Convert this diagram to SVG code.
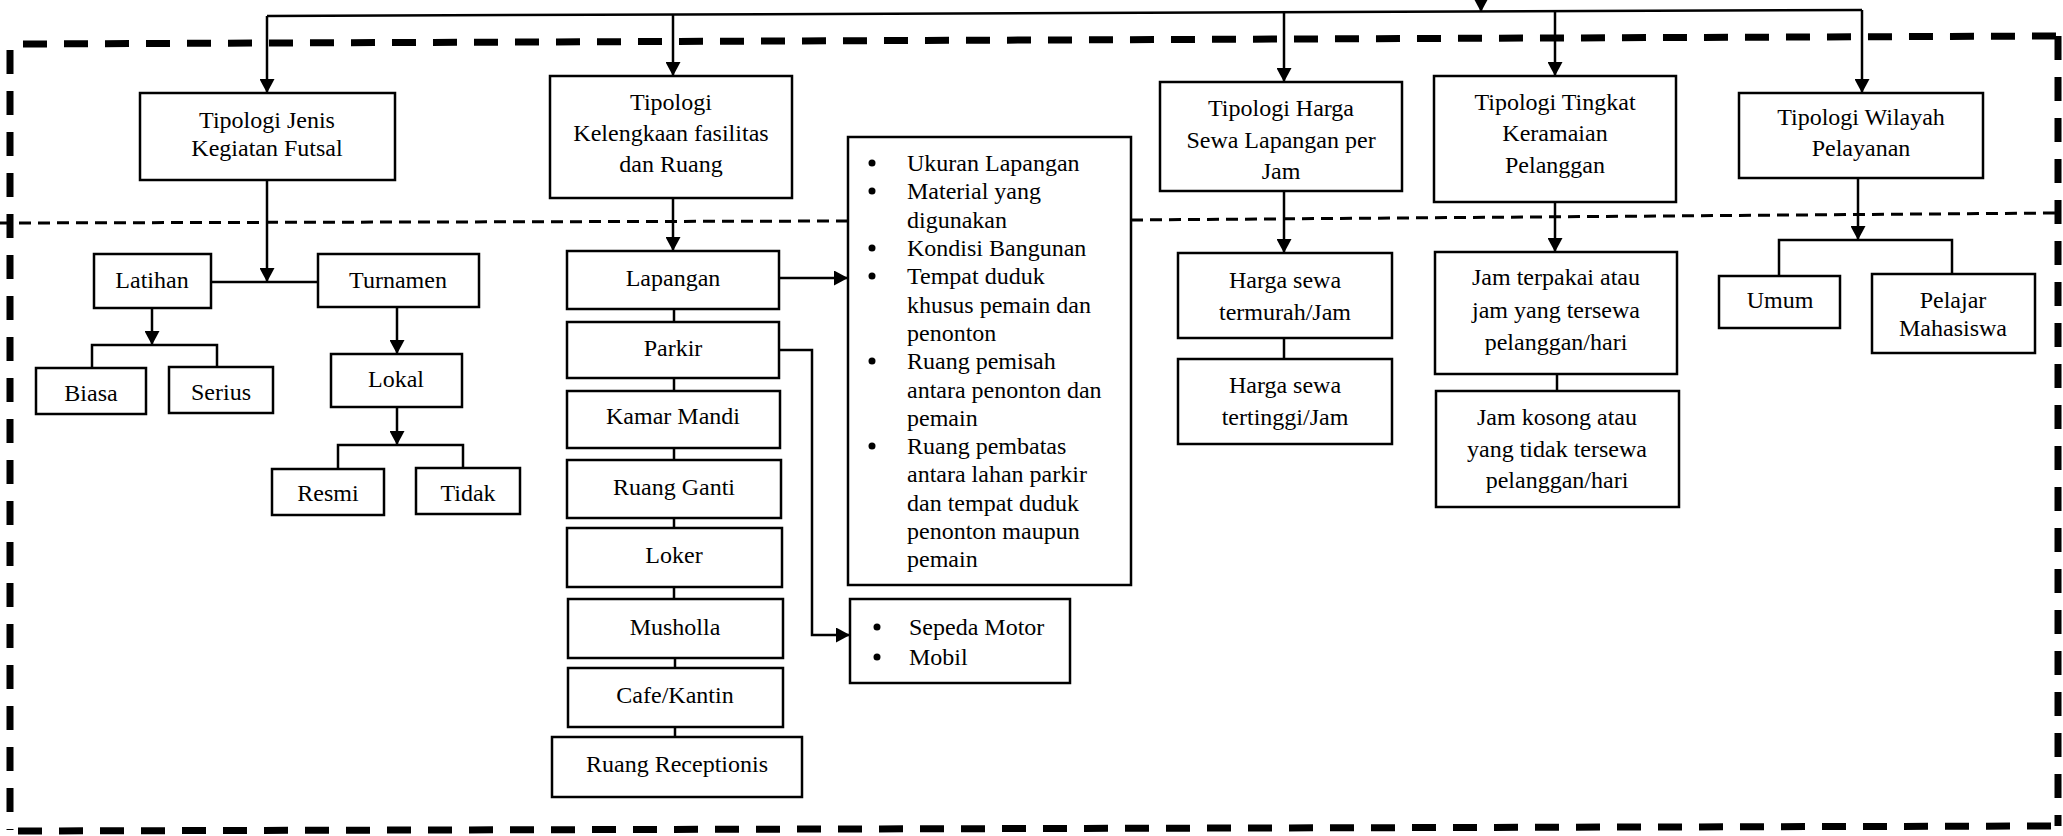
<svg xmlns="http://www.w3.org/2000/svg" width="2063" height="836" viewBox="0 0 2063 836">
<defs>
<marker id="ah" markerUnits="userSpaceOnUse" markerWidth="15" markerHeight="15" refX="14" refY="7.5" orient="auto">
<path d="M0,0 L14,7.5 L0,15 z" fill="#000"/>
</marker>
<style>
.box{fill:#fff;stroke:#000;stroke-width:2.5}
.t{font-family:"Liberation Serif","Times New Roman",serif;font-size:24px;text-anchor:middle;dominant-baseline:central;fill:#000}
.l{text-anchor:start}
.ln{fill:none;stroke:#000;stroke-width:2.5}
.a{marker-end:url(#ah)}
.thick{fill:none;stroke:#000;stroke-width:7;stroke-dasharray:24 17}
.thin{fill:none;stroke:#000;stroke-width:3;stroke-dasharray:12 7}
</style>
</defs>
<g id="boundary">
<line class="thick" x1="23" y1="44" x2="2058" y2="36"/>
<line class="thick" x1="10" y1="50" x2="10" y2="830"/>
<line class="thick" x1="2058" y1="36" x2="2058" y2="826"/>
<line class="thick" x1="18" y1="831" x2="2058" y2="826"/>
<line class="thin" x1="0" y1="223" x2="848" y2="221"/>
<line class="thin" x1="1131" y1="220" x2="2058" y2="213"/>
</g>
<g id="connectors">
<path class="ln a" d="M1481,0 V12"/>
<path class="ln" d="M267,16 L1862,10"/>
<path class="ln a" d="M267,16 V93"/>
<path class="ln a" d="M673,14.5 V76"/>
<path class="ln a" d="M1284,11.3 V82"/>
<path class="ln a" d="M1555,10.3 V76"/>
<path class="ln a" d="M1862,10 V93"/>
<path class="ln a" d="M267,180 V282"/>
<path class="ln" d="M211,282 H318"/>
<path class="ln a" d="M152,308 V345"/>
<path class="ln" d="M92,368 V345 H217 V367"/>
<path class="ln a" d="M397,307 V354"/>
<path class="ln a" d="M397,407 V445"/>
<path class="ln" d="M338,469 V445 H463 V468"/>
<path class="ln a" d="M673,198 V251"/>
<path class="ln" d="M674,309 V322 M674,378 V391 M674,448 V460 M674,518 V528 M674,587 V599 M675,658 V668 M675,727 V737"/>
<path class="ln a" d="M779,278 H848"/>
<path class="ln a" d="M779,350 H812 V635 H850"/>
<path class="ln a" d="M1284,191 V253"/>
<path class="ln" d="M1284,338 V359"/>
<path class="ln a" d="M1555,202 V252"/>
<path class="ln" d="M1557,374 V391"/>
<path class="ln a" d="M1858,178 V240"/>
<path class="ln" d="M1779,276 V240 H1952 V274"/>
</g>
<g id="n-jenis"><rect class="box" x="140" y="93" width="255" height="87"/><text class="t" x="267" y="120">Tipologi Jenis</text><text class="t" x="267" y="148">Kegiatan Futsal</text></g>
<g id="n-kelengkaan"><rect class="box" x="550" y="76" width="242" height="122"/><text class="t" x="671" y="102">Tipologi</text><text class="t" x="671" y="133">Kelengkaan fasilitas</text><text class="t" x="671" y="164">dan Ruang</text></g>
<g id="n-harga"><rect class="box" x="1160" y="82" width="242" height="109"/><text class="t" x="1281" y="108">Tipologi Harga</text><text class="t" x="1281" y="140">Sewa Lapangan per</text><text class="t" x="1281" y="171">Jam</text></g>
<g id="n-tingkat"><rect class="box" x="1434" y="76" width="242" height="126"/><text class="t" x="1555" y="102">Tipologi Tingkat</text><text class="t" x="1555" y="133">Keramaian</text><text class="t" x="1555" y="165">Pelanggan</text></g>
<g id="n-wilayah"><rect class="box" x="1739" y="93" width="244" height="85"/><text class="t" x="1861" y="117">Tipologi Wilayah</text><text class="t" x="1861" y="148">Pelayanan</text></g>
<g id="n-latihan"><rect class="box" x="94" y="254" width="117" height="54"/><text class="t" x="152" y="280">Latihan</text></g>
<g id="n-turnamen"><rect class="box" x="318" y="254" width="161" height="53"/><text class="t" x="398" y="280">Turnamen</text></g>
<g id="n-biasa"><rect class="box" x="36" y="368" width="110" height="46"/><text class="t" x="91" y="393">Biasa</text></g>
<g id="n-serius"><rect class="box" x="169" y="367" width="104" height="46"/><text class="t" x="221" y="392">Serius</text></g>
<g id="n-lokal"><rect class="box" x="331" y="354" width="131" height="53"/><text class="t" x="396" y="379">Lokal</text></g>
<g id="n-resmi"><rect class="box" x="272" y="469" width="112" height="46"/><text class="t" x="328" y="493">Resmi</text></g>
<g id="n-tidak"><rect class="box" x="416" y="468" width="104" height="46"/><text class="t" x="468" y="493">Tidak</text></g>
<g id="n-lapangan"><rect class="box" x="567" y="251" width="212" height="58"/><text class="t" x="673" y="278">Lapangan</text></g>
<g id="n-parkir"><rect class="box" x="567" y="322" width="212" height="56"/><text class="t" x="673" y="348">Parkir</text></g>
<g id="n-kamar"><rect class="box" x="567" y="391" width="213" height="57"/><text class="t" x="673" y="416">Kamar Mandi</text></g>
<g id="n-ganti"><rect class="box" x="567" y="460" width="214" height="58"/><text class="t" x="674" y="487">Ruang Ganti</text></g>
<g id="n-loker"><rect class="box" x="567" y="528" width="215" height="59"/><text class="t" x="674" y="555">Loker</text></g>
<g id="n-musholla"><rect class="box" x="568" y="599" width="215" height="59"/><text class="t" x="675" y="627">Musholla</text></g>
<g id="n-cafe"><rect class="box" x="568" y="668" width="215" height="59"/><text class="t" x="675" y="695">Cafe/Kantin</text></g>
<g id="n-receptionis"><rect class="box" x="552" y="737" width="250" height="60"/><text class="t" x="677" y="764">Ruang Receptionis</text></g>
<g id="n-lapangan-list"><rect class="box" x="848" y="137" width="283" height="448"/>
<g fill="#000"><circle cx="872" cy="163" r="3.5"/><circle cx="872" cy="191" r="3.5"/><circle cx="872" cy="248" r="3.5"/><circle cx="872" cy="276" r="3.5"/><circle cx="872" cy="361" r="3.5"/><circle cx="872" cy="446" r="3.5"/></g>
<text class="t l" x="907" y="163">Ukuran Lapangan</text>
<text class="t l" x="907" y="191">Material yang</text>
<text class="t l" x="907" y="220">digunakan</text>
<text class="t l" x="907" y="248">Kondisi Bangunan</text>
<text class="t l" x="907" y="276">Tempat duduk</text>
<text class="t l" x="907" y="305">khusus pemain dan</text>
<text class="t l" x="907" y="333">penonton</text>
<text class="t l" x="907" y="361">Ruang pemisah</text>
<text class="t l" x="907" y="390">antara penonton dan</text>
<text class="t l" x="907" y="418">pemain</text>
<text class="t l" x="907" y="446">Ruang pembatas</text>
<text class="t l" x="907" y="474">antara lahan parkir</text>
<text class="t l" x="907" y="503">dan tempat duduk</text>
<text class="t l" x="907" y="531">penonton maupun</text>
<text class="t l" x="907" y="559">pemain</text>
</g>
<g id="n-parkir-list"><rect class="box" x="850" y="599" width="220" height="84"/>
<g fill="#000"><circle cx="877" cy="627" r="3.5"/><circle cx="877" cy="657" r="3.5"/></g>
<text class="t l" x="909" y="627">Sepeda Motor</text>
<text class="t l" x="909" y="657">Mobil</text>
</g>
<g id="n-termurah"><rect class="box" x="1178" y="253" width="214" height="85"/><text class="t" x="1285" y="280">Harga sewa</text><text class="t" x="1285" y="312">termurah/Jam</text></g>
<g id="n-tertinggi"><rect class="box" x="1178" y="359" width="214" height="85"/><text class="t" x="1285" y="385">Harga sewa</text><text class="t" x="1285" y="417">tertinggi/Jam</text></g>
<g id="n-terpakai"><rect class="box" x="1435" y="252" width="242" height="122"/><text class="t" x="1556" y="277">Jam terpakai atau</text><text class="t" x="1556" y="310">jam yang tersewa</text><text class="t" x="1556" y="342">pelanggan/hari</text></g>
<g id="n-kosong"><rect class="box" x="1436" y="391" width="243" height="116"/><text class="t" x="1557" y="417">Jam kosong atau</text><text class="t" x="1557" y="449">yang tidak tersewa</text><text class="t" x="1557" y="480">pelanggan/hari</text></g>
<g id="n-umum"><rect class="box" x="1719" y="276" width="121" height="52"/><text class="t" x="1780" y="300">Umum</text></g>
<g id="n-pelajar"><rect class="box" x="1872" y="274" width="163" height="79"/><text class="t" x="1953" y="300">Pelajar</text><text class="t" x="1953" y="328">Mahasiswa</text></g>
</svg>
